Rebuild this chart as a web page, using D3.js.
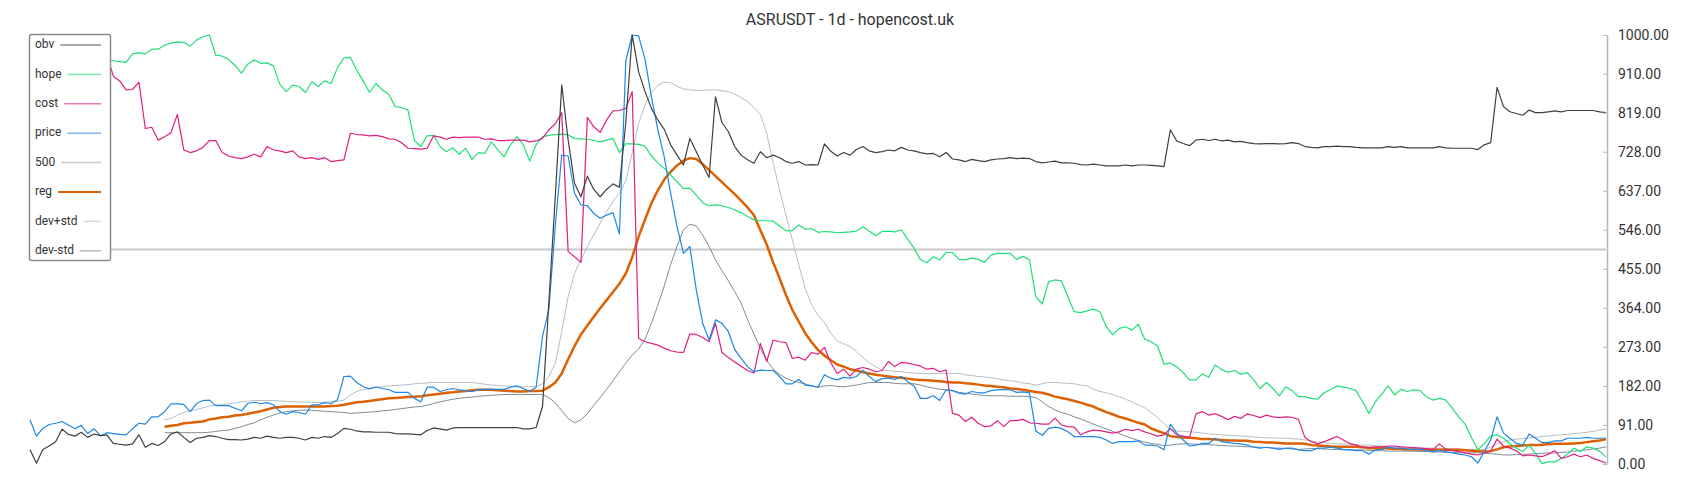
<!DOCTYPE html>
<html>
<head>
<meta charset="utf-8">
<script src="https://d3js.org/d3.v7.min.js"></script>
<style>
  body { margin: 0; background: #fff; }
  svg { display: block; font-family: Roboto, "Noto Sans", sans-serif; }
</style>
</head>
<body>
<svg id="chart" width="1700" height="500"></svg>
<script>
const title = "ASRUSDT - 1d - hopencost.uk";
const legendNames = ["obv", "hope", "cost", "price", "500", "reg", "dev+std", "dev-std"];
const yTicks = [0, 91, 182, 273, 364, 455, 546, 637, 728, 819, 910, 1000];
const refLevel = 500;

const obv = [34,2,34,42,52,81,69,65,74,62,
  70,66,68,48,46,44,47,68,39,48,
  43,52,70,75,62,50,60,62,66,64,
  60,57,57,56,58,62,60,65,62,60,
  62,62,60,56,62,60,64,62,71,83,
  81,77,75,75,74,74,74,71,70,70,
  69,68,78,84,82,79,84,85,85,85,
  85,85,85,85,85,85,85,82,82,85,
  134,379,625,884,755,654,623,671,640,623,
  640,653,645,796,1000,914,868,829,802,780,
  744,720,697,759,728,697,668,856,796,775,
  740,720,709,701,728,714,720,714,705,701,
  705,697,698,697,746,729,718,726,720,733,
  740,730,726,728,732,730,738,732,730,726,
  723,724,716,726,711,709,705,710,707,705,
  709,711,712,714,712,713,712,705,702,704,
  706,702,702,701,698,697,699,697,695,695,
  695,697,695,697,697,696,695,693,779,753,
  747,742,755,757,754,757,753,755,751,752,
  749,747,746,747,747,746,747,749,747,740,
  738,737,740,740,741,740,740,738,737,737,
  737,737,740,738,740,737,737,737,737,737,
  740,737,736,736,736,736,733,744,749,878,
  833,821,817,813,825,819,819,821,823,821,
  824,824,824,824,824,821,819];

const hope = [null,null,null,null,null,null,null,null,null,null,
  null,null,940,940,938,936,956,959,956,967,
  967,976,981,984,983,974,988,996,1000,953,
  951,943,929,911,932,942,934,935,928,885,
  868,883,880,866,891,880,893,887,924,947,
  948,918,893,866,887,872,862,833,831,825,
  754,740,765,766,740,728,737,722,736,710,
  726,724,751,733,716,744,763,744,706,744,
  763,766,768,769,767,759,758,757,754,751,
  755,759,726,746,746,745,741,718,702,689,
  674,658,642,643,627,609,602,604,602,598,
  592,586,577,569,567,567,566,555,544,544,
  557,547,549,540,542,541,539,540,541,543,
  553,543,532,542,543,541,546,524,503,476,
  469,483,476,493,493,477,476,480,477,470,
  487,491,491,491,477,484,476,390,373,425,
  429,427,390,355,353,357,361,355,320,301,
  316,320,312,326,291,285,275,233,235,227,
  213,196,196,210,202,231,220,214,218,209,
  213,196,176,190,176,159,180,171,157,157,
  153,151,166,173,182,179,176,171,145,118,
  145,163,182,161,174,169,173,171,156,149,
  153,149,130,110,93,62,33,48,65,68,
  60,48,37,29,44,25,1,5,5,13,
  23,37,29,40,37,30,16];

const cost = [null,null,null,null,null,null,null,null,null,null,
  null,null,955,904,893,872,873,890,782,785,
  755,763,772,815,732,726,730,738,754,754,
  726,718,714,712,716,722,716,740,732,730,
  726,730,716,712,714,710,714,705,707,709,
  771,768,767,765,766,763,758,757,749,736,
  735,734,736,765,762,757,762,761,762,762,
  762,757,758,754,754,755,755,755,751,753,
  759,779,793,819,495,483,470,808,786,773,
  802,823,824,829,868,293,285,281,277,270,
  264,261,260,303,302,295,285,328,260,248,
  238,228,218,212,281,239,289,285,283,246,
  249,242,260,256,272,236,211,221,205,221,
  225,221,215,218,239,227,237,235,232,228,
  221,223,215,219,118,114,99,109,95,87,
  89,101,87,101,101,104,96,95,93,93,
  107,91,87,86,68,75,79,78,75,72,
  75,81,78,81,75,70,65,68,83,68,
  65,62,117,122,114,117,111,103,111,106,
  117,113,108,114,110,108,110,109,104,62,
  52,47,52,58,64,56,48,44,39,39,
  40,40,42,42,40,39,38,37,36,34,
  47,34,31,29,26,23,21,25,31,58,
  42,37,31,19,21,19,17,23,31,13,
  17,23,17,21,13,8,2];

const price = [103,65,83,92,95,99,91,82,90,71,
  82,66,73,71,69,68,82,95,93,110,
  110,122,140,140,139,122,141,148,149,136,
  136,136,130,124,141,144,141,143,138,122,
  116,122,120,116,138,138,143,141,150,204,
  205,190,180,175,180,176,173,167,167,167,
  153,145,179,179,169,173,176,173,171,169,
  173,174,174,174,174,179,182,176,169,179,
  297,363,557,720,718,631,604,602,584,573,
  580,586,536,940,1000,998,943,856,779,716,
  631,553,491,507,406,328,289,336,328,309,
  267,246,227,215,219,218,218,204,187,187,
  197,184,182,179,208,200,196,202,200,204,
  219,204,192,199,200,197,204,192,182,153,
  153,159,148,173,171,165,163,169,166,166,
  171,173,174,173,167,168,166,77,67,83,
  86,83,75,64,64,64,64,62,56,48,
  52,52,52,54,44,44,42,33,93,72,
  56,42,44,48,48,60,52,50,48,47,
  44,39,37,39,37,34,37,37,33,31,
  31,37,37,39,37,34,33,31,31,23,
  33,34,39,37,37,34,34,34,31,29,
  31,29,26,23,21,17,2,29,56,110,
  72,60,48,44,70,60,50,50,54,54,
  60,60,60,62,60,60,60];

const reg = [null,null,null,null,null,null,null,null,null,null,
  null,null,null,null,null,null,null,null,null,null,
  null,87,89,91,95,96,98,99,104,106,
  109,110,113,114,117,120,123,127,131,133,
  134,134,134,134,134,134,134,135,136,138,
  141,144,145,147,149,151,153,154,155,156,
  157,158,160,162,164,166,167,169,170,172,
  173,173,173,172,171,170,169,169,170,170,
  171,179,190,211,244,275,302,323,343,363,
  382,401,420,444,482,530,570,608,638,663,
  681,696,707,713,711,699,685,671,657,643,
  629,614,598,580,545,511,470,433,394,359,
  332,305,284,266,253,242,232,227,221,218,
  214,211,208,206,204,202,201,199,197,196,
  195,194,193,191,190,190,188,187,185,183,
  182,180,179,176,175,173,170,168,166,162,
  157,154,151,147,143,138,134,127,121,116,
  110,106,101,96,92,83,77,72,65,63,
  62,61,60,58,58,57,56,55,55,54,
  54,52,51,50,50,49,48,48,48,47,
  44,43,42,41,40,40,40,40,39,37,
  37,37,36,35,35,34,34,34,33,33,
  33,33,33,33,32,31,30,29,30,34,
  39,41,42,43,44,44,45,46,47,47,
  47,48,49,51,53,55,58];

const devPlus = [null,null,null,null,null,null,null,null,null,null,
  null,null,null,null,null,null,null,null,null,null,
  null,103,106,114,120,124,127,131,135,137,
  139,140,142,145,146,148,148,148,148,147,
  146,145,145,144,144,143,144,145,146,149,
  161,169,173,176,178,180,182,183,184,185,
  187,188,189,190,190,190,190,190,190,190,
  188,186,184,183,182,181,180,180,180,180,
  187,204,235,309,390,444,476,507,534,561,
  588,612,631,660,725,794,837,866,883,890,
  889,880,874,872,871,871,872,872,870,868,
  862,854,845,831,815,771,701,639,580,522,
  464,410,371,347,330,305,287,280,274,262,
  248,236,227,219,218,216,215,213,212,211,
  211,211,211,211,211,211,208,206,204,203,
  201,199,196,194,192,189,187,184,187,190,
  190,189,188,187,184,182,174,169,166,162,
  157,151,145,138,131,120,108,95,79,77,
  76,75,74,72,70,69,68,67,66,65,
  64,63,62,61,61,60,60,59,58,56,
  54,51,50,48,47,47,46,45,44,44,
  43,42,41,40,40,39,38,37,37,37,
  36,36,35,35,34,34,34,34,39,47,
  52,56,58,59,61,62,64,65,67,68,
  69,71,72,74,76,79,82];

const devMinus = [null,null,null,null,null,null,null,null,null,null,
  null,null,null,null,null,null,null,null,null,null,
  null,73,73,73,73,73,73,73,74,76,
  78,79,83,87,92,96,103,109,114,119,
  122,124,125,126,125,124,123,122,121,120,
  118,119,120,121,122,124,125,127,129,131,
  133,134,137,141,145,148,151,153,155,156,
  158,159,160,161,162,162,162,162,162,162,
  162,154,143,124,106,96,103,117,137,155,
  174,194,215,235,254,268,291,328,370,415,
  465,508,546,559,555,534,507,476,451,427,
  402,375,337,303,270,241,221,209,200,194,
  190,187,182,179,182,183,181,180,182,184,
  187,190,190,190,190,188,187,187,187,184,
  180,177,174,173,171,167,165,163,161,160,
  159,159,159,158,158,158,157,155,145,134,
  126,120,116,110,105,99,93,87,82,76,
  71,65,60,55,51,48,46,43,44,46,
  47,47,46,45,45,44,43,42,42,41,
  40,40,39,38,37,37,36,35,34,35,
  36,36,35,34,34,33,33,33,33,32,
  31,31,30,30,30,30,30,29,29,28,
  28,27,27,26,26,26,26,25,24,23,
  21,21,22,23,23,24,25,26,26,27,
  28,30,31,33,35,37,40];

// drawing styles, one per legend entry
const styles = {
  "obv":     { color: "#404040", width: 1.2, legendOpacity: 0.6 },
  "hope":    { color: "#20df78", width: 1.2, legendOpacity: 0.6 },
  "cost":    { color: "#e01f80", width: 1.2, legendOpacity: 0.6 },
  "price":   { color: "#1e88e5", width: 1.2, legendOpacity: 0.6 },
  "500":     { color: "#c8c8c8", width: 2,   legendOpacity: 1 },
  "reg":     { color: "#dd6100", width: 2.5, legendOpacity: 1 },
  "dev+std": { color: "#b6bec6", width: 1,   legendOpacity: 0.6 },
  "dev-std": { color: "#7e8d99", width: 1,   legendOpacity: 0.6 }
};

const svg = d3.select("#chart");
const n = obv.length;

const x = d3.scaleLinear().domain([0, n - 1]).range([30, 1606]);
const y = d3.scaleLinear().domain([0, 1000]).range([464, 35]);

const line = d3.line()
  .defined(d => d != null)
  .x((d, i) => x(i))
  .y(d => y(d));

svg.append("text")
  .attr("x", 850).attr("y", 25)
  .attr("text-anchor", "middle")
  .attr("font-size", "16px")
  .attr("fill", "#333")
  .text(title);

const plot = svg.append("g");

// horizontal 500 level
plot.append("line")
  .attr("x1", x(0)).attr("x2", x(n - 1))
  .attr("y1", y(refLevel)).attr("y2", y(refLevel))
  .attr("stroke", styles["500"].color)
  .attr("stroke-width", styles["500"].width);

const drawOrder = [
  ["dev-std", devMinus],
  ["dev+std", devPlus],
  ["reg", reg],
  ["hope", hope],
  ["cost", cost],
  ["price", price],
  ["obv", obv]
];

drawOrder.forEach(([name, values]) => {
  const s = styles[name];
  plot.append("path")
    .datum(values)
    .attr("d", line)
    .attr("fill", "none")
    .attr("stroke", s.color)
    .attr("stroke-width", s.width)
    .attr("stroke-linejoin", "round");
});

// right axis
const axis = svg.append("g")
  .attr("transform", "translate(1607,0)")
  .call(d3.axisRight(y)
    .tickValues(yTicks)
    .tickFormat(d3.format(".2f"))
    .tickSizeInner(-4)
    .tickSizeOuter(0)
    .tickPadding(11));
axis.select(".domain").attr("stroke", "#b0b9c1").attr("stroke-width", 1.5);
axis.selectAll(".tick line").attr("stroke", "#b0b9c1");
axis.selectAll(".tick text")
  .attr("fill", "#333")
  .attr("font-size", "14px")
  .attr("font-family", "Roboto, sans-serif");

// legend
const legend = svg.append("g");
legend.append("rect")
  .attr("x", 29.5).attr("y", 34.5)
  .attr("width", 81).attr("height", 226)
  .attr("rx", 2)
  .attr("fill", "#fff")
  .attr("stroke", "#8c8c8c")
  .attr("stroke-width", 1.5);

legendNames.forEach((name, i) => {
  const ly = 45 + i * 29.4;
  const s = styles[name];
  const t = legend.append("text")
    .attr("x", 35).attr("y", ly)
    .attr("dominant-baseline", "middle")
    .attr("font-size", "12px")
    .attr("fill", "#333")
    .text(name);
  const tw = t.node().getComputedTextLength();
  legend.append("line")
    .attr("x1", 35 + tw + 6).attr("x2", 101)
    .attr("y1", ly).attr("y2", ly)
    .attr("stroke", s.color)
    .attr("stroke-opacity", s.legendOpacity)
    .attr("stroke-width", name === "reg" ? 2 : 1.5);
});
</script>
</body>
</html>
